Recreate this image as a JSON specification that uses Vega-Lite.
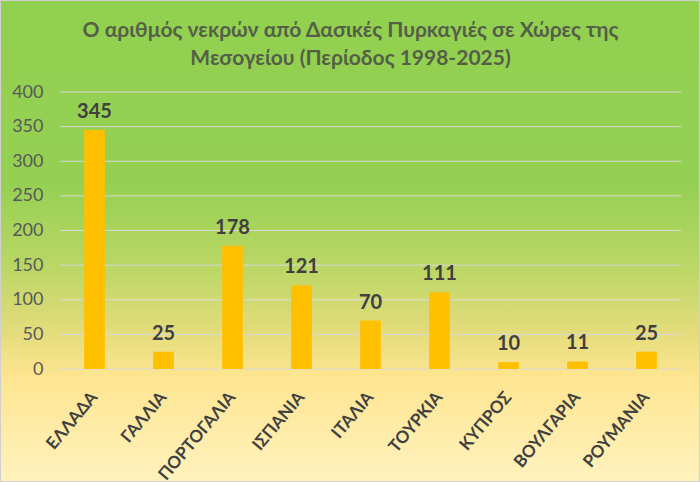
{
  "$schema": "https://vega.github.io/schema/vega-lite/v6.json",
  "autosize": "none",
  "width": 621,
  "height": 277,
  "padding": {"left": 60, "top": 92, "right": 19, "bottom": 113},
  "title": {
    "text": ["Ο αριθμός νεκρών από Δασικές Πυρκαγιές σε Χώρες της", "Μεσογείου (Περίοδος 1998-2025)"],
    "font": "Lato",
    "fontSize": 21,
    "fontWeight": "bold",
    "color": "#555f48",
    "lineHeight": 28,
    "anchor": "middle",
    "frame": "group",
    "dx": -20,
    "offset": -70,
    "zindex": 1
  },
  "datasets": {
    "deaths": [
      {"country": "ΕΛΛΑΔΑ", "deaths": 345},
      {"country": "ΓΑΛΛΙΑ", "deaths": 25},
      {"country": "ΠΟΡΤΟΓΑΛΙΑ", "deaths": 178},
      {"country": "ΙΣΠΑΝΙΑ", "deaths": 121},
      {"country": "ΙΤΑΛΙΑ", "deaths": 70},
      {"country": "ΤΟΥΡΚΙΑ", "deaths": 111},
      {"country": "ΚΥΠΡΟΣ", "deaths": 10},
      {"country": "ΒΟΥΛΓΑΡΙΑ", "deaths": 11},
      {"country": "ΡΟΥΜΑΝΙΑ", "deaths": 25}
    ],
    "grid": [
      {"tick": 0}, {"tick": 50}, {"tick": 100}, {"tick": 150}, {"tick": 200},
      {"tick": 250}, {"tick": 300}, {"tick": 350}, {"tick": 400}
    ]
  },
  "layer": [
    {
      "data": {"values": [{}]},
      "mark": {
        "type": "rect",
        "stroke": "#d0d0d0",
        "strokeWidth": 2,
        "color": {
          "gradient": "linear",
          "x1": 0, "y1": 0, "x2": 0, "y2": 1,
          "stops": [
            {"offset": 0, "color": "#92d050"},
            {"offset": 0.38, "color": "#95d052"},
            {"offset": 0.56, "color": "#bcd766"},
            {"offset": 0.69, "color": "#e4dc7c"},
            {"offset": 0.78, "color": "#fde590"},
            {"offset": 1, "color": "#fff2be"}
          ]
        }
      },
      "encoding": {
        "x": {"datum": -0.0966, "type": "quantitative", "scale": {"domain": [0, 1], "nice": false, "zero": false}, "axis": null},
        "x2": {"datum": 1.0306},
        "y": {
          "datum": 532.85,
          "type": "quantitative",
          "title": null,
          "scale": {"domain": [0, 400], "nice": false},
          "axis": {
            "values": [0, 50, 100, 150, 200, 250, 300, 350, 400],
            "tickCount": 9,
            "labelOverlap": false,
            "labelSeparation": 0,
            "labelFont": "Lato",
            "labelFontSize": 18,
            "labelColor": "#595959",
            "labelPadding": 17,
            "ticks": false,
            "domain": false,
            "grid": false,
            "zindex": 1
          }
        },
        "y2": {"datum": -163.18}
      }
    },
    {
      "layer": [
        {
          "data": {"name": "grid"},
          "mark": {"type": "rule", "color": "#d9d9d9", "strokeWidth": 1},
          "encoding": {
            "y": {"field": "tick", "type": "quantitative", "title": null}
          }
        },
        {
          "data": {"name": "deaths"},
          "mark": {"type": "bar", "color": "#ffc000"},
          "encoding": {
            "x": {
              "field": "country",
              "type": "nominal",
              "sort": null,
              "title": null,
              "scale": {"paddingInner": 0.7, "paddingOuter": 0.35},
              "axis": {
                "labelAngle": -50,
                "labelFont": "Lato",
                "labelFontSize": 17,
                "labelFontWeight": "bold",
                "labelColor": "#404040",
                "labelPadding": 25,
                "ticks": false,
                "domain": false,
                "grid": false,
                "zindex": 1
              }
            },
            "y": {"field": "deaths", "type": "quantitative", "title": null}
          }
        },
        {
          "data": {"name": "deaths"},
          "mark": {
            "type": "text",
            "font": "Lato",
            "fontSize": 20,
            "fontWeight": "bold",
            "color": "#404040",
            "baseline": "alphabetic",
            "dy": -12
          },
          "encoding": {
            "x": {"field": "country", "type": "nominal", "sort": null},
            "y": {"field": "deaths", "type": "quantitative"},
            "text": {"field": "deaths", "type": "quantitative"}
          }
        }
      ]
    }
  ],
  "resolve": {"scale": {"x": "independent"}},
  "config": {
    "view": {"stroke": null},
    "axis": {"labelOverlap": false},
    "axisY": {"labelOverlap": false}
  }
}
